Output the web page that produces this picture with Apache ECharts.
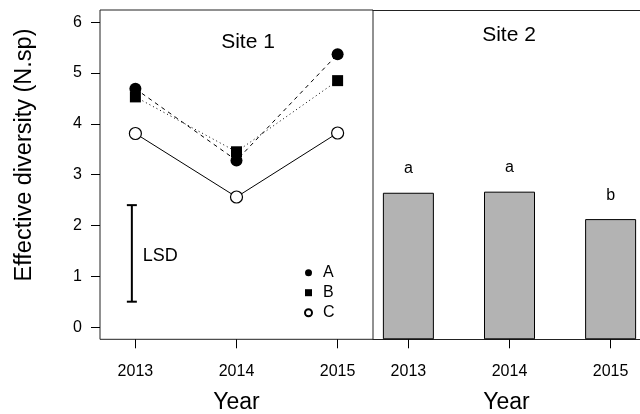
<!DOCTYPE html>
<html>
<head>
<meta charset="utf-8">
<script src="https://cdn.jsdelivr.net/npm/echarts@6/dist/echarts.min.js"></script>
<style>
  html, body { margin: 0; padding: 0; background: #fff; }
  #chart { width: 640px; height: 414px; }
</style>
</head>
<body>
<div id="chart"></div>
<script>
// Years shown on both panels
const years = [2013, 2014, 2015];
const yTicks = [0, 1, 2, 3, 4, 5, 6];

// Site 1: effective diversity per treatment
const seriesNames = ['A', 'B', 'C'];
const siteA = [4.69, 3.28, 5.37];
const siteB = [4.53, 3.45, 4.85];
const siteC = [3.81, 2.56, 3.82];

// LSD bar (low, high) for Site 1
const lsdX = 2012.965;
const lsdRange = [0.5, 2.4];
const lsdText = 'LSD';

// Site 2: effective diversity per year, with significance letters
const site2 = [2.67, 2.69, 2.19];
const site2Letters = ['a', 'a', 'b'];

const FONT = '"Liberation Sans", Arial, Helvetica, sans-serif';

const chart = echarts.init(document.getElementById('chart'), null, { renderer: 'canvas' });

// Both panels share the same year scale; the right panel is cut at the page edge
const X_MIN = 2012.65;
const PX_PER_YEAR = 273 / 2.7;
const RIGHT_W = 640 - 373;

function yearAxis(gridIndex, max, showLine) {
  return {
    gridIndex: gridIndex,
    type: 'value',
    min: X_MIN,
    max: max,
    axisLine: { show: showLine, onZero: false, lineStyle: { color: '#222', width: 1 } },
    splitLine: { show: false },
    axisTick: { show: true, inside: false, length: 9, customValues: years,
                lineStyle: { color: '#000', width: 1 } },
    axisLabel: { show: true, customValues: years, margin: 24, color: '#000',
                 fontSize: 16, fontFamily: FONT, formatter: v => String(v) },
    name: 'Year',
    nameLocation: 'middle',
    nameGap: 52,
    nameTextStyle: { fontSize: 23, color: '#000', fontFamily: FONT }
  };
}

const option = {
  animation: false,
  backgroundColor: '#fff',
  textStyle: { fontFamily: FONT },
  grid: [
    { left: 100, top: 10, width: 273, bottom: 74.7, show: true, containLabel: false,
      outerBoundsMode: 'none',
      borderColor: '#222', borderWidth: 1, backgroundColor: 'transparent' },
    { left: 373, top: 10, width: RIGHT_W, bottom: 74.7, show: false, containLabel: false,
      outerBoundsMode: 'none' }
  ],
  xAxis: [
    yearAxis(0, 2015.35, false),
    yearAxis(1, X_MIN + RIGHT_W / PX_PER_YEAR, true),
    // top edge of the right panel
    { gridIndex: 1, type: 'value', position: 'top', min: X_MIN,
      max: X_MIN + RIGHT_W / PX_PER_YEAR,
      axisLine: { show: true, onZero: false, lineStyle: { color: '#222', width: 1 } },
      axisTick: { show: false }, axisLabel: { show: false }, splitLine: { show: false } }
  ],
  yAxis: [
    { gridIndex: 0, type: 'value', min: -0.24, max: 6.24,
      axisLine: { show: false }, splitLine: { show: false },
      axisTick: { show: true, inside: false, length: 9, customValues: yTicks,
                  lineStyle: { color: '#000', width: 1 } },
      axisLabel: { customValues: yTicks, margin: 18, color: '#000', fontSize: 16, fontFamily: FONT } },
    { gridIndex: 1, type: 'value', min: 0, max: 6, show: false,
      splitLine: { show: false } }
  ],
  legend: {
    orient: 'vertical',
    left: 299,
    top: 257.7,
    itemWidth: 7,
    itemHeight: 7,
    itemGap: 0,
    textStyle: { fontSize: 16, color: '#000', fontFamily: FONT, lineHeight: 20,
                 padding: [0, 0, 0, 6] },
    data: [
      { name: seriesNames[0], icon: 'circle' },
      { name: seriesNames[1], icon: 'rect' },
      { name: seriesNames[2], icon: 'circle' }
    ]
  },
  graphic: [
    { type: 'text', x: 25, y: 155, rotation: Math.PI / 2,
      style: { text: 'Effective diversity (N.sp)', fontSize: 23.5, fontFamily: FONT,
               fill: '#000', align: 'center', verticalAlign: 'middle' } },
    { type: 'text', x: 248, y: 42,
      style: { text: 'Site 1', fontSize: 21, fontFamily: FONT, fill: '#000',
               align: 'center', verticalAlign: 'middle' } },
    { type: 'text', x: 509, y: 35,
      style: { text: 'Site 2', fontSize: 21, fontFamily: FONT, fill: '#000',
               align: 'center', verticalAlign: 'middle' } }
  ],
  series: [
    {
      name: seriesNames[0], type: 'line', xAxisIndex: 0, yAxisIndex: 0,
      data: years.map((y, i) => [y, siteA[i]]),
      symbol: 'circle', symbolSize: 12, z: 4,
      lineStyle: { color: '#000', width: 1, type: [4, 4] },
      itemStyle: { color: '#000' }
    },
    {
      name: seriesNames[1], type: 'line', xAxisIndex: 0, yAxisIndex: 0,
      data: years.map((y, i) => [y, siteB[i]]),
      symbol: 'rect', symbolSize: 11, z: 3,
      lineStyle: { color: '#000', width: 1, type: [1, 3] },
      itemStyle: { color: '#000' }
    },
    {
      name: seriesNames[2], type: 'line', xAxisIndex: 0, yAxisIndex: 0,
      data: years.map((y, i) => [y, siteC[i]]),
      symbol: 'circle', symbolSize: 12, z: 3,
      lineStyle: { color: '#000', width: 1, type: 'solid' },
      itemStyle: { color: '#fff', borderColor: '#000', borderWidth: 1.2 }
    },
    {
      type: 'custom', xAxisIndex: 0, yAxisIndex: 0,
      data: [[lsdX, lsdRange[0], lsdRange[1]]],
      renderItem: function (params, api) {
        const x = api.value(0);
        const lo = api.coord([x, api.value(1)]);
        const hi = api.coord([x, api.value(2)]);
        const cap = 5;
        const ls = { stroke: '#000', lineWidth: 2 };
        return {
          type: 'group',
          children: [
            { type: 'line', shape: { x1: lo[0], y1: lo[1], x2: hi[0], y2: hi[1] }, style: ls },
            { type: 'line', shape: { x1: hi[0] - cap, y1: hi[1], x2: hi[0] + cap, y2: hi[1] }, style: ls },
            { type: 'line', shape: { x1: lo[0] - cap, y1: lo[1], x2: lo[0] + cap, y2: lo[1] }, style: ls },
            { type: 'text', x: lo[0] + 11, y: (lo[1] + hi[1]) / 2 + 3,
              style: { text: lsdText, fontSize: 18, fontFamily: FONT, fill: '#000',
                       align: 'left', verticalAlign: 'middle' } }
          ]
        };
      }
    },
    {
      type: 'bar', xAxisIndex: 1, yAxisIndex: 1,
      data: years.map((y, i) => [y, site2[i]]),
      barWidth: 51,
      itemStyle: { color: '#b3b3b3', borderColor: '#000', borderWidth: 1 },
      label: {
        show: true, position: 'top', distance: 16,
        color: '#000', fontSize: 16, fontFamily: FONT,
        formatter: p => site2Letters[p.dataIndex]
      }
    }
  ]
};

chart.setOption(option);
</script>
</body>
</html>
